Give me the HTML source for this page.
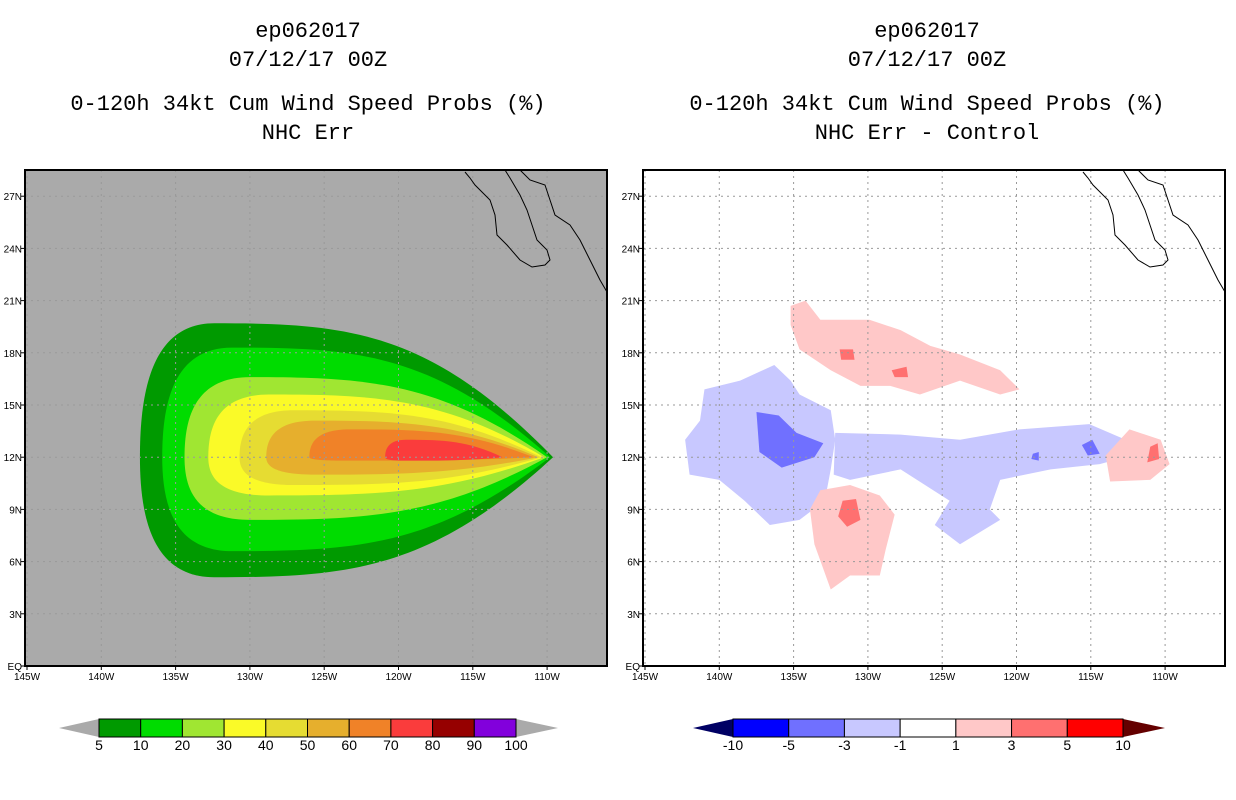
<!DOCTYPE html>
<html><head><meta charset="utf-8"><style>
body{margin:0;background:#fff;}
svg{display:block;}
.t{font-family:"Liberation Mono",monospace;font-size:22px;fill:#000;text-anchor:middle;}
.tk{font-family:"Liberation Sans",sans-serif;font-size:10px;fill:#000;}
.cb{font-family:"Liberation Sans",sans-serif;font-size:14px;fill:#000;text-anchor:middle;}
</style></head><body>
<svg id="s" width="1236" height="800" xmlns="http://www.w3.org/2000/svg">
<g>
<text class="t" x="308" y="37">ep062017</text>
<text class="t" x="308" y="66">07/12/17 00Z</text>
<text class="t" x="308" y="110">0-120h 34kt Cum Wind Speed Probs (%)</text>
<text class="t" x="308" y="139">NHC Err</text>
</g>
<g>
<text class="t" x="927" y="37">ep062017</text>
<text class="t" x="927" y="66">07/12/17 00Z</text>
<text class="t" x="927" y="110">0-120h 34kt Cum Wind Speed Probs (%)</text>
<text class="t" x="927" y="139">NHC Err - Control</text>
</g>
<g id="L"></g>
<g id="R"></g>
<g id="CB"></g>
</svg>
<script>
// Left panel: probability contour levels (%)
const probLevels=[5,10,20,30,40,50,60,70];
const probColors=["#009a00","#00dc00","#a0e632","#fafa28","#e6dc32","#e6af2d","#f08228","#fa3c3c"];
const levelLeftLon=[137.4,135.9,134.4,132.8,130.7,128.9,126.0,120.9];
const levelTopLat=[19.7,18.3,16.6,15.6,14.7,14.1,13.6,13.0];
const levelBotLat=[5.1,6.6,8.4,9.8,10.4,11.0,11.8,11.8];
const levelRightLon=[109.6,109.8,110.0,110.2,110.4,110.6,110.9,113.0];
const tipLat=12.0;
// Right panel: difference blobs [lon W, lat N]
const diffBins=[-5,-3,1,3];
const blobValues=[-2,-2,-4,-4,-4,2,2,2,4,4,4,4];
const blobShapes=[
[[141.0,15.9],[138.6,16.4],[136.3,17.3],[135.2,16.4],[134.6,15.6],[132.5,14.7],[132.2,13.0],[132.5,11.3],[132.9,9.5],[134.6,8.4],[136.6,8.1],[138.3,9.5],[140,10.7],[142,11],[142.3,13],[141.3,14.1]],
[[132.2,13.4],[127.8,13.3],[123.8,13.0],[119.8,13.6],[115.1,13.9],[111.0,12.4],[114.4,11.6],[117.7,11.3],[121.1,10.7],[121.8,9.0],[121.1,8.4],[123.8,7.0],[125.5,8.1],[124.5,9.5],[127.8,11.3],[131.2,10.7],[132.3,11.0]],
[[137.5,14.6],[136.0,14.4],[134.8,13.4],[133.0,12.8],[133.6,12.0],[135.8,11.4],[137.3,12.3]],
[[115.6,12.7],[114.9,13.0],[114.4,12.2],[115.2,12.1]],
[[118.9,12.2],[118.5,12.3],[118.5,11.8],[119.0,11.9]],
[[135.2,20.7],[134.2,21.0],[133.2,19.9],[129.9,19.9],[127.8,19.3],[125.8,18.4],[123.8,17.9],[121.1,17.0],[119.8,15.9],[121.1,15.6],[123.8,16.4],[126.5,15.6],[128.5,16.1],[130.5,16.1],[132.5,17.0],[134.6,18.2],[135.2,19.6]],
[[133.2,10.1],[131.2,10.4],[129.2,9.8],[128.2,8.7],[128.8,6.7],[129.2,5.2],[131.2,5.2],[132.5,4.4],[133.6,7.0],[133.9,9.0]],
[[114.0,12.1],[112.4,13.6],[110.3,13.0],[109.7,11.6],[111.0,10.7],[113.7,10.6]],
[[131.9,18.2],[131.0,18.2],[130.9,17.6],[131.8,17.6]],
[[128.4,17.0],[127.4,17.2],[127.3,16.6],[128.2,16.6]],
[[131.7,9.5],[130.8,9.6],[130.5,8.4],[131.4,8.0],[132.0,8.6]],
[[111.0,12.6],[110.5,12.8],[110.4,11.9],[111.2,11.7]]
];
const lonTicks=[145,140,135,130,125,120,115,110];
const latTicks=[0,3,6,9,12,15,18,21,24,27];
const probTickLabels=["5","10","20","30","40","50","60","70","80","90","100"];
const probBarColors=["#009a00","#00dc00","#a0e632","#fafa28","#e6dc32","#e6af2d","#f08228","#fa3c3c","#960000","#8200dc"];
const diffTickLabels=["-10","-5","-3","-1","1","3","5","10"];
const diffBarColors=["#0000ff","#7070ff","#c8c8ff","#ffffff","#ffc8c8","#ff7070","#ff0000"];

const NS="http://www.w3.org/2000/svg";
function mk(p,t,a){const e=document.createElementNS(NS,t);for(const k in a)e.setAttribute(k,a[k]);p.appendChild(e);return e;}
const BOX={w:582,top:170,bot:666};
function xs(ox){return lon=>ox+2+(145-lon)*14.86;}
function ys(lat){return BOX.bot-lat*17.4;}
function panel(g,ox,bg){
  const x=xs(ox);
  const r=mk(g,'rect',{x:ox,y:BOX.top,width:BOX.w,height:BOX.bot-BOX.top,fill:bg});
  
  
  return x;
}
function chrome(g,ox,x){
  lonTicks.forEach(l=>{
    const gl=mk(g,'line',{x1:x(l),x2:x(l),y1:BOX.top,y2:BOX.bot,stroke:'#999','stroke-dasharray':'2,4','stroke-width':1});
    
    
    mk(g,'line',{x1:x(l),x2:x(l),y1:BOX.bot,y2:BOX.bot+4,stroke:'#000'});
    const t=mk(g,'text',{class:'tk',x:x(l),y:BOX.bot+14,'text-anchor':'middle'});t.textContent=l+'W';
    
    
  });
  latTicks.forEach(v=>{
    if(v>0){const gl=mk(g,'line',{x1:ox,x2:ox+BOX.w,y1:ys(v),y2:ys(v),stroke:'#999','stroke-dasharray':'2,4'});
    
    }
    mk(g,'line',{x1:ox-4,x2:ox,y1:ys(v),y2:ys(v),stroke:'#000'});
    const t=mk(g,'text',{class:'tk',x:ox-3,y:ys(v)+4,'text-anchor':'end'});t.textContent=v===0?'EQ':v+'N';
    
    
  });
  const pts1=[[-142,2],[-137,8],[-132,15],[-117,30],[-112,45],[-110,65],[-100,75],[-87,90],[-75,97],[-62,95],[-57,90],[-60,80],[-70,70],[-75,55],[-80,40],[-87,25],[-97,8],[-102,0]];
  const pts2=[[-87,0],[-77,10],[-62,15],[-57,30],[-52,45],[-37,55],[-27,70],[-17,90],[-7,110],[0,122]];
  [pts1,pts2].forEach(p=>{const c=mk(g,'polyline',{points:p.map(q=>(ox+BOX.w+q[0])+','+(BOX.top+q[1])).join(' '),fill:'none',stroke:'#000','stroke-width':1});
  
  });
  const b=mk(g,'rect',{x:ox,y:BOX.top,width:BOX.w,height:BOX.bot-BOX.top,fill:'none',stroke:'#000','stroke-width':2});
  
  
}
// Left
const L=document.getElementById('L');
const xl=panel(L,25,'#aaaaaa');
probLevels.forEach((lv,i)=>{
  const xL=xl(levelLeftLon[i]),xR=xl(levelRightLon[i]),yT=ys(levelTopLat[i]),yB=ys(levelBotLat[i]),yM=ys(tipLat);
  const w=xR-xL;
  const d=`M${xR},${yM} C${xR-w*0.3},${yT+(yM-yT)*0.05} ${xL+w*0.5},${yT} ${xL+w*0.18},${yT}
  C${xL+w*0.03},${yT} ${xL},${yM-(yM-yT)*0.5} ${xL},${yM}
  C${xL},${yM+(yB-yM)*0.5} ${xL+w*0.03},${yB} ${xL+w*0.18},${yB}
  C${xL+w*0.5},${yB} ${xR-w*0.3},${yB-(yB-yM)*0.05} ${xR},${yM} Z`;
  const p=mk(L,'path',{d:d,fill:probColors[i]});
  
  
});
chrome(L,25,xl);
// Right
const R=document.getElementById('R');
const xr=panel(R,643,'#ffffff');
function diffColor(v){let i=0;const edges=[-10,-5,-3,-1,1,3,5,10];for(let k=0;k<edges.length-1;k++){if(v>=edges[k]&&v<edges[k+1])i=k;}return diffBarColors[i];}
blobShapes.forEach((s,i)=>{
  const p=mk(R,'polygon',{points:s.map(q=>xr(q[0])+','+ys(q[1])).join(' '),fill:diffColor(blobValues[i])});
  
  
});
chrome(R,643,xr);
// Colorbars
const CB=document.getElementById('CB');
function bar(x0,x1,colors,labels,lc,rc,name){
  const g=mk(CB,'g',{});
  
  
  const y0=719,y1=737,ym=728,tri=40;
  mk(g,'polygon',{points:`${x0},${y0} ${x0},${y1} ${x0-tri},${ym}`,fill:lc});
  mk(g,'polygon',{points:`${x1},${y0} ${x1},${y1} ${x1+tri+2},${ym}`,fill:rc});
  const w=(x1-x0)/colors.length;
  colors.forEach((c,i)=>{const r=mk(g,'rect',{x:x0+i*w,y:y0,width:w,height:y1-y0,fill:c,stroke:'#000','stroke-width':1});
  
  });
  labels.forEach((l,i)=>{const t=mk(g,'text',{class:'cb',x:x0+i*w,y:750});t.textContent=l;});
}
bar(99,516,probBarColors,probTickLabels,'#aaaaaa','#aaaaaa','prob-colorbar');
bar(733,1123,diffBarColors,diffTickLabels,'#000064','#640000','diff-colorbar');
</script>
</body></html>
